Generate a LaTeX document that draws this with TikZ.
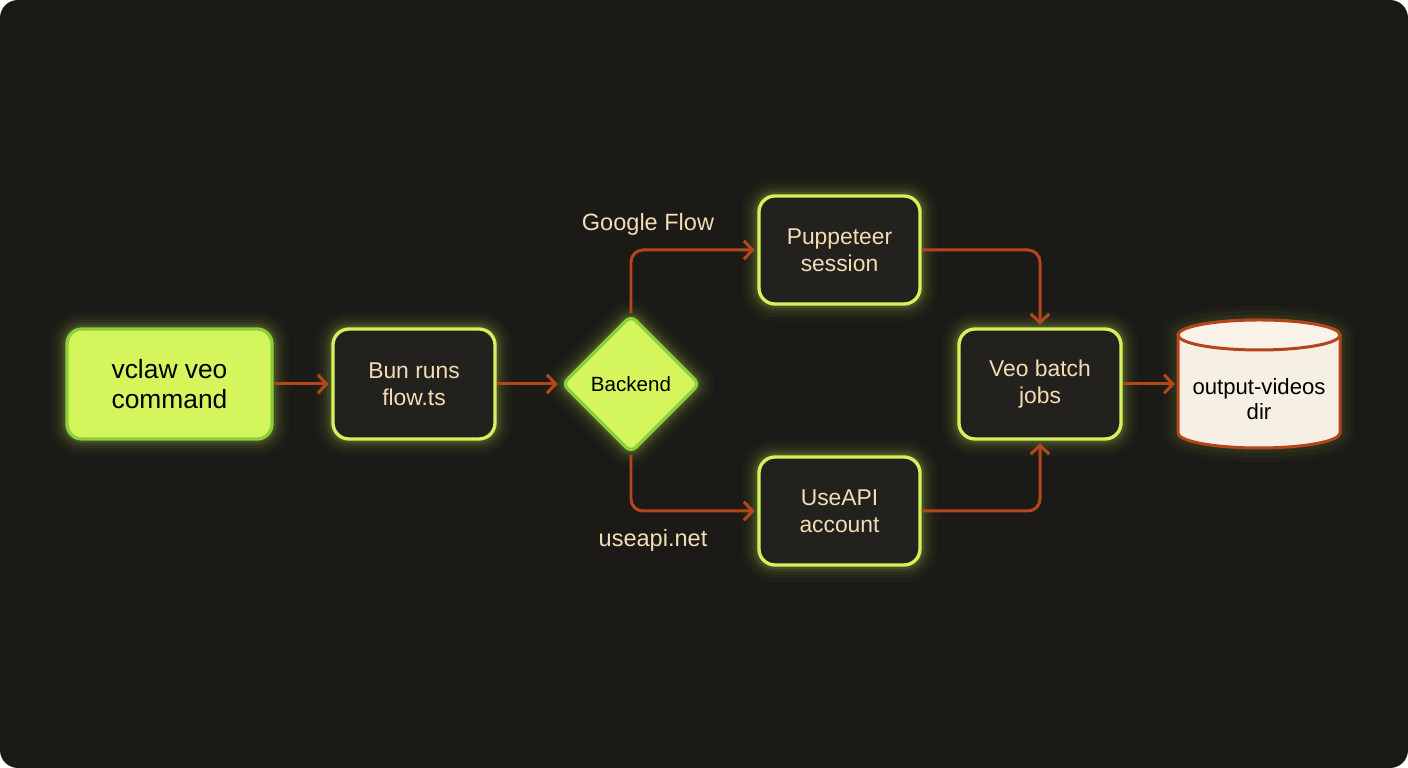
\documentclass[tikz,border=0pt]{standalone}
\usepackage{fontspec}
\setmainfont{Liberation Sans}
\usetikzlibrary{arrows.meta,shapes.geometric,calc}
\definecolor{bg}{HTML}{1B1A17}
\definecolor{boxfill}{HTML}{23211D}
\definecolor{limeborder}{HTML}{D4F25C}
\definecolor{limefill}{HTML}{D4F55C}
\definecolor{limedark}{HTML}{8CD13C}
\definecolor{cream}{HTML}{F2DDB5}
\definecolor{arrowc}{HTML}{B5461C}
\definecolor{cylfill}{HTML}{F6EFE3}
\definecolor{cylborder}{HTML}{B3441C}
\definecolor{glowc}{HTML}{C8F050}
\tikzset{
  glow/.style={
    preaction={draw=glowc, draw opacity=0.025, line width=20pt},
    preaction={draw=glowc, draw opacity=0.035, line width=15pt},
    preaction={draw=glowc, draw opacity=0.05, line width=11pt},
    preaction={draw=glowc, draw opacity=0.07, line width=7.5pt},
    preaction={draw=glowc, draw opacity=0.10, line width=4.5pt}},
  softglow/.style={
    preaction={draw=glowc, draw opacity=0.025, line width=16pt},
    preaction={draw=glowc, draw opacity=0.035, line width=11pt},
    preaction={draw=glowc, draw opacity=0.05, line width=6pt}},
  darkbox/.style={glow, rectangle, rounded corners=0.32cm, draw=limeborder,
    line width=1.9pt, fill=boxfill, text=cream, minimum width=3.24cm,
    minimum height=2.2cm, align=center, inner sep=0pt,
    font=\fontsize{13}{15.3}\selectfont},
  limebox/.style={glow, rectangle, rounded corners=0.3cm, draw=limedark,
    line width=1.9pt, fill=limefill, text=black, minimum width=4.1cm,
    minimum height=2.2cm, align=center, inner sep=0pt,
    font=\fontsize{15}{17}\selectfont},
  decision/.style={glow, diamond, rounded corners=0.14cm, draw=limedark,
    line width=1.9pt, fill=limefill, text=black, minimum width=2.76cm,
    minimum height=2.76cm, inner sep=0pt, font=\fontsize{11.7}{14}\selectfont},
  cyltext/.style={text=black, align=center, inner sep=0pt, minimum width=3.24cm,
    font=\fontsize{12.6}{14.3}\selectfont},
  edgelabel/.style={text=cream, font=\fontsize{13.4}{16}\selectfont},
  conn/.style={draw=arrowc, line width=1.7pt, rounded corners=0.24cm,
    -{Straight Barb[length=5pt,width=10.5pt]}, shorten >=1.5pt}
}
\begin{document}
\begin{tikzpicture}
\fill[white] (0,0) rectangle (28.16,15.36);
\fill[bg, rounded corners=0.36cm] (0,0) rectangle (28.16,15.36);
\useasboundingbox (0,0) rectangle (28.16,15.36);

% cylinder
\path[softglow, fill=cylfill, draw=cylborder, line width=1.7pt]
  (23.56,8.66) -- (23.56,6.70)
  arc[start angle=180, end angle=360, x radius=1.62cm, y radius=0.3cm]
  -- (26.80,8.66)
  arc[start angle=0, end angle=180, x radius=1.62cm, y radius=0.3cm] -- cycle;
\draw[fill=cylfill!80!white, draw=cylborder, line width=1.7pt]
  (25.18,8.66) ellipse[x radius=1.62cm, y radius=0.3cm];

\node[limebox] (cmd) at (3.39,7.68) {vclaw veo\\command};
\node[darkbox] (bun) at (8.28,7.68) {Bun runs\\flow.ts};
\node[decision] (backend) at (12.62,7.68) {Backend};
\node[darkbox, minimum width=3.22cm, minimum height=2.16cm] (pup) at (16.79,10.36) {Puppeteer\\session};
\node[darkbox, minimum width=3.22cm, minimum height=2.16cm] (useapi) at (16.79,5.14) {UseAPI\\account};
\node[darkbox] (veo) at (20.80,7.68) {Veo batch\\jobs};
\node[cyltext] (out) at (25.18,7.38) {output-videos\\dir};

\node[edgelabel] (lflow) at (12.96,10.88) {Google Flow};
\node[edgelabel] (lapi) at (13.06,4.56) {useapi.net};

\draw[conn] (cmd.east) -- (bun.west);
\draw[conn] (bun.east) -- (backend.west);
\draw[conn] (backend.north) |- (pup.west);
\draw[conn] (backend.south) |- (useapi.west);
\draw[conn] (pup.east) -| (veo.north);
\draw[conn] (useapi.east) -| (veo.south);
\draw[conn] (veo.east) -- (veo.east -| out.west);
\end{tikzpicture}
\end{document}
